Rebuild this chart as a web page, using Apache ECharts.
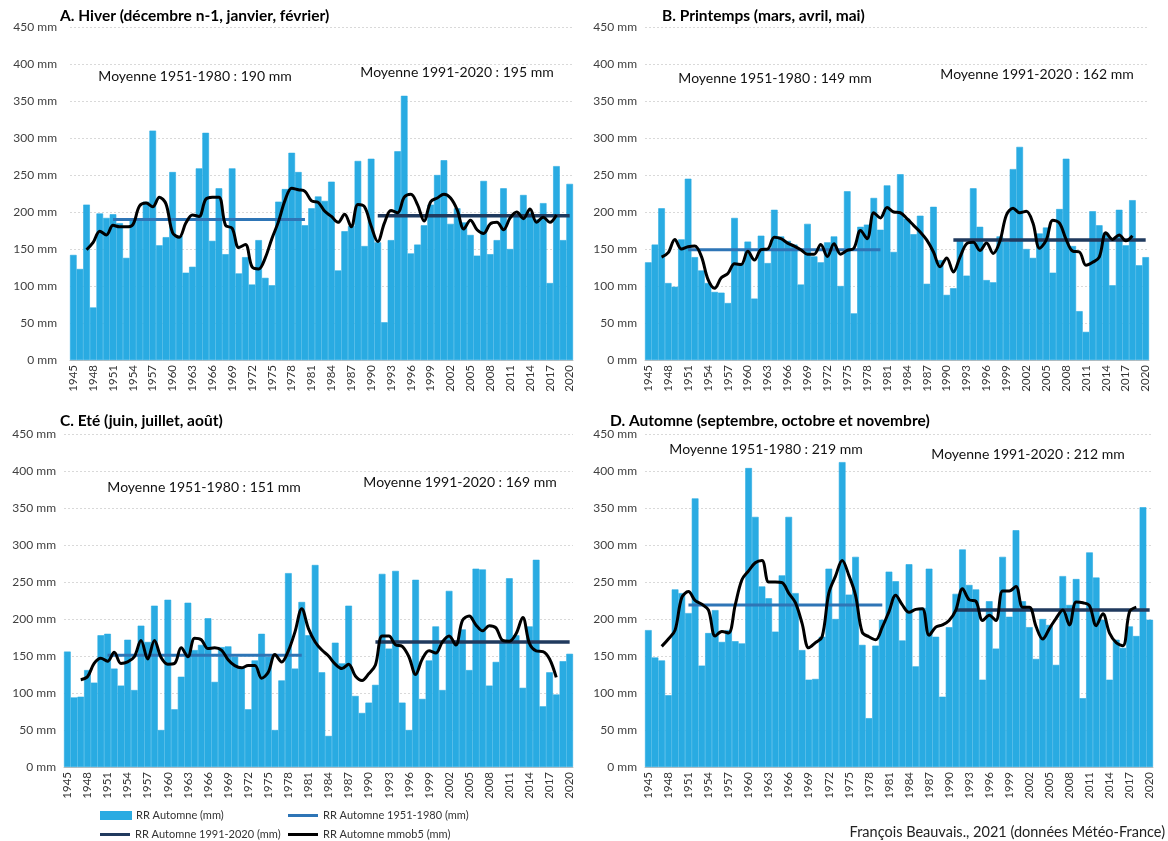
<!DOCTYPE html>
<html><head><meta charset="utf-8">
<script src="https://cdn.jsdelivr.net/npm/echarts@6/dist/echarts.min.js"></script>
<style>html,body{margin:0;padding:0;background:#fff}#c{width:1168px;height:841px}</style>
</head><body><div id="c"></div>
<script>
// ---------- DATA ----------
const years = ['1945','1946','1947','1948','1949','1950','1951','1952','1953','1954',
'1955','1956','1957','1958','1959','1960','1961','1962','1963','1964',
'1965','1966','1967','1968','1969','1970','1971','1972','1973','1974',
'1975','1976','1977','1978','1979','1980','1981','1982','1983','1984',
'1985','1986','1987','1988','1989','1990','1991','1992','1993','1994',
'1995','1996','1997','1998','1999','2000','2001','2002','2003','2004',
'2005','2006','2007','2008','2009','2010','2011','2012','2013','2014',
'2015','2016','2017','2018','2019','2020'];

const yTicks = [0, 50, 100, 150, 200, 250, 300, 350, 400, 450];

// Hiver (mm)
const rrHiver = [142,123,210,71,198,192,197,185,138,190,
190,214,310,155,166,254,168,118,126,259,
307,161,232,143,259,117,139,102,162,111,
101,214,231,280,254,182,205,221,215,241,
121,174,181,269,154,272,159,51,162,282,
357,144,156,182,210,250,270,184,205,186,
169,141,242,143,162,232,150,195,223,199,
190,212,104,262,162,238];
const mmHiver = [null,null,149,159,174,169,182,180,180,183,208,212,
207,220,211,172,166,185,196,194,217,220,
220,182,178,152,156,126,123,138,164,187,
216,232,230,228,215,213,201,194,186,197,
180,210,207,181,160,185,202,199,220,224,
210,188,214,219,224,219,203,177,189,176,
171,184,186,176,192,200,191,204,186,193,
186,196,null,null];

// Printemps (mm)
const rrPrintemps = [132,156,205,104,99,163,245,139,121,104,
92,91,77,192,131,160,83,168,131,203,
167,161,156,102,184,140,132,159,167,100,
228,63,180,183,219,176,236,146,251,191,
170,195,103,207,135,88,97,162,114,232,
180,108,105,167,160,258,288,150,138,171,
179,118,204,272,154,66,38,201,182,172,
101,203,155,216,128,139];
const mmPrintemps = [null,null,139,145,163,150,153,154,140,109,97,111,
117,130,129,147,135,149,150,166,164,158,
154,149,143,143,156,140,157,143,148,151,
175,164,199,192,206,200,199,191,182,173,
162,146,126,138,119,139,157,159,148,158,
144,160,196,205,199,201,185,151,162,189,
185,163,147,146,128,132,139,172,163,169,
161,168,null,null];

// Eté (mm)
const rrEte = [156,94,95,131,114,178,180,133,110,172,
104,191,169,218,50,226,78,122,222,158,
165,201,115,162,163,149,135,78,144,180,
149,50,117,262,133,223,178,273,128,42,
168,140,218,96,73,87,111,261,160,265,
87,50,253,92,144,190,104,238,167,186,
131,268,267,110,142,168,255,178,107,190,
280,82,128,98,143,153];
const mmEte = [null,null,118,122,140,147,143,155,140,142,149,171,
146,171,148,139,140,161,149,174,172,160,
161,158,145,137,134,137,137,120,128,152,
142,157,183,214,187,169,158,150,139,133,
139,123,117,126,138,177,177,165,163,149,
125,146,157,154,169,177,165,198,204,192,
184,191,188,171,170,180,202,167,157,156,
146,121,null,null];

// Automne (mm)
const rrAutomne = [185,148,144,97,240,235,208,363,137,181,
212,169,185,170,167,404,338,244,228,183,
259,338,235,158,118,119,176,268,200,412,
233,284,165,66,164,199,264,251,171,274,
136,215,268,176,95,189,234,294,246,240,
118,224,160,284,203,320,224,189,146,200,
192,138,258,219,254,93,290,256,199,118,
172,161,190,177,351,199];
const mmAutomne = [null,null,163,173,185,229,237,225,220,212,177,183,
181,219,253,265,276,279,250,250,249,235,
222,194,161,168,176,235,258,279,259,232,
182,176,172,189,210,232,219,209,213,214,
178,189,192,198,212,241,226,224,198,205,
198,238,238,244,216,216,190,173,187,201,
212,192,223,222,218,191,207,181,168,164,
210,216,null,null];

// normals (mm) and periods
const normal1951 = [190, 149, 151, 219];
const normal1991 = [195, 162, 169, 212];
const period1 = ['1951', '1980'];
const period2 = ['1991', '2020'];

const panelTitles = ['A. Hiver (décembre n-1, janvier, février)', 'B. Printemps (mars, avril, mai)', 'C. Eté (juin, juillet, août)', 'D. Automne (septembre, octobre et novembre)'];
const seriesNames = ['RR Automne (mm)', 'RR Automne 1951-1980 (mm)', 'RR Automne 1991-2020 (mm)', 'RR Automne mmob5 (mm)'];
const sourceText = 'François Beauvais., 2021 (données Météo-France)';

// ---------- LAYOUT ----------
const values = [rrHiver, rrPrintemps, rrEte, rrAutomne];
const mmob = [mmHiver, mmPrintemps, mmEte, mmAutomne];
const grids = [
  {left: 70, top: 27, width: 503, height: 333},
  {left: 645, top: 27, width: 504, height: 333},
  {left: 64, top: 434, width: 509, height: 333},
  {left: 645, top: 434, width: 508, height: 333}
];
const titlePos = [[60, 8], [662, 8], [60, 413], [610, 413]];
const notePos = [
  [[195, 76], [457, 72]],
  [[775, 78], [1037, 74]],
  [[204, 487], [460, 482]],
  [[766, 449], [1028, 454]]
];
const FONT = 'Lato, "Open Sans", sans-serif';
const BAR = '#29ABE2';
const L1 = '#2E75B6';
const L2 = '#203A5E';

function periodLine(v, p) {
  const a = years.indexOf(p[0]), b = years.indexOf(p[1]);
  return years.map((y, i) => (i >= a && i <= b) ? v : null);
}

const option = {
  animation: false,
  backgroundColor: '#fff',
  title: panelTitles.map((t, i) => ({
    text: t, left: titlePos[i][0], top: titlePos[i][1], padding: 0,
    textStyle: {fontFamily: FONT, fontSize: 15.5, fontWeight: 'bold', color: '#000'}
  })),
  grid: grids.map(g => Object.assign({containLabel: false}, g)),
  xAxis: grids.map((g, i) => ({
    type: 'category', gridIndex: i, data: years, boundaryGap: true,
    axisLine: {show: true, lineStyle: {color: '#bfbfbf', width: 1}},
    axisTick: {show: false},
    axisLabel: {interval: 2, rotate: 90, margin: 5, fontFamily: FONT, fontSize: 11.5, color: '#333'},
    splitLine: {show: false}
  })),
  yAxis: grids.map((g, i) => ({
    type: 'value', gridIndex: i, min: yTicks[0], max: yTicks[yTicks.length - 1], interval: yTicks[1] - yTicks[0],
    axisLine: {show: false}, axisTick: {show: false},
    axisLabel: {formatter: '{value} mm', margin: i === 0 ? 13 : 8, fontFamily: FONT, fontSize: 12, color: '#404040'},
    splitLine: {show: true, lineStyle: {color: '#d9d9d9', type: [2, 2], width: 1}}
  })),
  legend: [
    {data: [{name: seriesNames[0], icon: 'rect'}], left: 95, top: 805, itemWidth: 30, itemHeight: 7},
    {data: [{name: seriesNames[1], icon: 'rect'}], left: 283, top: 805, itemWidth: 30, itemHeight: 3},
    {data: [{name: seriesNames[2], icon: 'rect'}], left: 95, top: 824, itemWidth: 30, itemHeight: 3},
    {data: [{name: seriesNames[3], icon: 'rect'}], left: 283, top: 824, itemWidth: 30, itemHeight: 3}
  ].map(l => Object.assign(l, {itemGap: 0, textStyle: {fontFamily: FONT, fontSize: 11, color: '#333'}, selectedMode: false})),
  graphic: [].concat(
    ...notePos.map((pp, i) => [
      {type: 'text', x: pp[0][0], y: pp[0][1], style: {text: 'Moyenne 1951-1980 : ' + normal1951[i] + ' mm', fontFamily: FONT, fontSize: 14, fill: '#111', align: 'center', verticalAlign: 'middle'}},
      {type: 'text', x: pp[1][0], y: pp[1][1], style: {text: 'Moyenne 1991-2020 : ' + normal1991[i] + ' mm', fontFamily: FONT, fontSize: 14, fill: '#111', align: 'center', verticalAlign: 'middle'}}
    ]),
    [{type: 'text', x: 1165, y: 832, style: {text: sourceText, fontFamily: FONT, fontSize: 14.5, fill: '#222', align: 'right', verticalAlign: 'middle'}}]
  ),
  series: [].concat(...values.map((vals, i) => [
    {name: seriesNames[0], type: 'bar', xAxisIndex: i, yAxisIndex: i, data: vals,
     barCategoryGap: '0%', barGap: '0%', itemStyle: {color: BAR, borderColor: BAR, borderWidth: 0.6}, z: 1},
    {name: seriesNames[1], type: 'line', xAxisIndex: i, yAxisIndex: i, data: periodLine(normal1951[i], period1),
     symbol: 'none', lineStyle: {color: L1, width: 3}, itemStyle: {color: L1}, z: 3},
    {name: seriesNames[2], type: 'line', xAxisIndex: i, yAxisIndex: i, data: periodLine(normal1991[i], period2),
     symbol: 'none', lineStyle: {color: L2, width: 3.5}, itemStyle: {color: L2}, z: 3},
    {name: seriesNames[3], type: 'line', xAxisIndex: i, yAxisIndex: i, data: mmob[i],
     symbol: 'none', smooth: 0.35, lineStyle: {color: '#000', width: 3}, itemStyle: {color: '#000'}, z: 5}
  ]))
};

const chart = echarts.init(document.getElementById('c'), null, {renderer: 'canvas'});
chart.setOption(option);
</script></body></html>
